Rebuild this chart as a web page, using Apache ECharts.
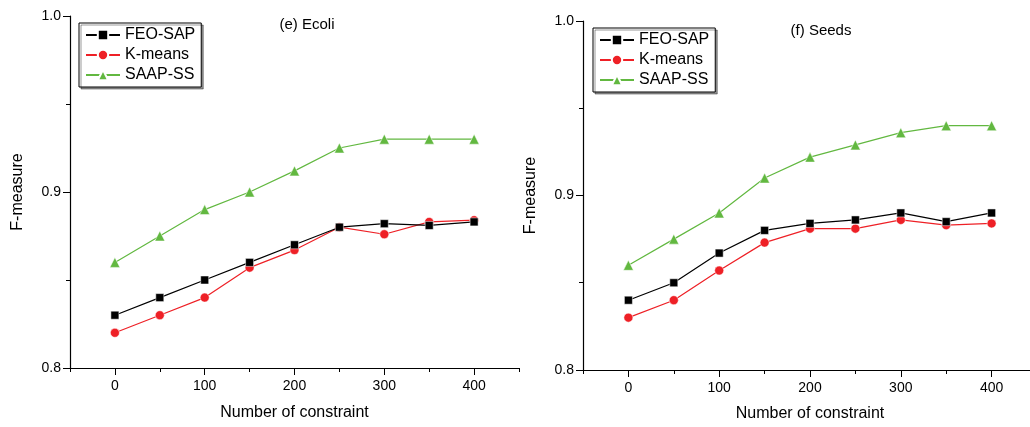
<!DOCTYPE html>
<html>
<head>
<meta charset="utf-8">
<script src="https://cdn.jsdelivr.net/npm/echarts@6/dist/echarts.min.js"></script>
<style>
  html, body { margin: 0; padding: 0; background: #fff; }
  #chart { width: 1030px; height: 427px; }
</style>
</head>
<body>
<div id="chart"></div>
<script>
var constraints = [0, 50, 100, 150, 200, 250, 300, 350, 400]

// (e) Ecoli
var ecoliFeo = [0.830, 0.840, 0.850, 0.860, 0.870, 0.880, 0.882, 0.881, 0.883]
var ecoliKmeans = [0.820, 0.830, 0.840, 0.857, 0.867, 0.880, 0.876, 0.883, 0.884]
var ecoliSaap = [0.860, 0.875, 0.890, 0.900, 0.912, 0.925, 0.930, 0.930, 0.930]

// (f) Seeds
var seedsFeo = [0.840, 0.850, 0.867, 0.880, 0.884, 0.886, 0.890, 0.885, 0.890]
var seedsKmeans = [0.830, 0.840, 0.857, 0.873, 0.881, 0.881, 0.886, 0.883, 0.884]
var seedsSaap = [0.860, 0.875, 0.890, 0.910, 0.922, 0.929, 0.936, 0.940, 0.940]

var xMajorTicks = [0, 100, 200, 300, 400]

var font = 'Liberation Sans, Arial, sans-serif'
var names = ['FEO-SAP', 'K-means', 'SAAP-SS']
var colors = ['#000000', '#ee2026', '#62b840']
var symbols = ['rect', 'circle', 'triangle']
var symbolSizes = [8, 9, 10]

function pair (xs, ys) {
  return xs.map(function (x, i) { return [x, ys[i]] })
}

// minor x axis: line + short ticks every 50, no labels
function makeXMinor (idx) {
  return {
    type: 'value',
    gridIndex: idx,
    position: 'bottom',
    min: -50,
    max: 450,
    interval: 50,
    axisLine: { show: true, onZero: false, lineStyle: { color: '#000', width: 1.2 } },
    axisTick: { show: true, length: 4, lineStyle: { color: '#000' } },
    axisLabel: { show: false },
    splitLine: { show: false }
  }
}

// major x axis: long ticks + labels at 0..400, axis name
function makeXMajor (idx, gap) {
  return {
    type: 'value',
    gridIndex: idx,
    position: 'bottom',
    min: -50,
    max: 450,
    name: 'Number of constraint',
    nameLocation: 'middle',
    nameGap: gap,
    nameTextStyle: { fontFamily: font, fontSize: 16, color: '#000' },
    axisLine: { show: false, onZero: false },
    axisTick: { show: true, length: 7, customValues: xMajorTicks, lineStyle: { color: '#000' } },
    axisLabel: {
      fontFamily: font,
      fontSize: 14,
      color: '#000',
      margin: 11,
      customValues: xMajorTicks
    },
    splitLine: { show: false }
  }
}

function makeY (idx) {
  return {
    type: 'value',
    gridIndex: idx,
    min: 0.8,
    max: 1.0,
    interval: 0.1,
    name: 'F-measure',
    nameLocation: 'middle',
    nameGap: 44,
    nameTextStyle: { fontFamily: font, fontSize: 16, color: '#000' },
    axisLine: { show: true, onZero: false, lineStyle: { color: '#000', width: 1.2 } },
    axisTick: { show: true, inside: false, length: 7, lineStyle: { color: '#000' } },
    minorTick: { show: true, splitNumber: 2, length: 4, lineStyle: { color: '#000' } },
    splitLine: { show: false },
    minorSplitLine: { show: false },
    axisLabel: {
      fontFamily: font,
      fontSize: 14,
      color: '#000',
      margin: 9,
      formatter: function (v) { return v.toFixed(1) }
    }
  }
}

function makeSeries (idx, sets) {
  return sets.map(function (d, i) {
    return {
      name: names[i],
      type: 'line',
      xAxisIndex: idx * 2,
      yAxisIndex: idx,
      data: pair(constraints, d),
      symbol: symbols[i],
      symbolSize: symbolSizes[i],
      showAllSymbol: true,
      lineStyle: { color: colors[i], width: 1.2 },
      itemStyle: { color: colors[i], borderColor: '#fff', borderWidth: 0.5 },
      z: 3 - i,
      animation: false
    }
  })
}

function makeLegend (left, top) {
  return {
    left: left,
    top: top,
    orient: 'vertical',
    data: names,
    itemWidth: 34,
    itemHeight: 13,
    itemGap: 4,
    padding: [4, 6, 4, 6],
    borderColor: '#000',
    borderWidth: 1,
    shadowColor: 'rgba(0,0,0,0.4)',
    shadowOffsetX: 2,
    shadowOffsetY: 2,
    backgroundColor: '#fff',
    textStyle: { fontFamily: font, fontSize: 16, color: '#000' }
  }
}

var chart = echarts.init(document.getElementById('chart'))
chart.setOption({
  animation: false,
  backgroundColor: '#fff',
  grid: [
    { left: 70, top: 16, width: 449, height: 352, outerBoundsMode: 'none' },
    // right panel runs past the picture's right edge, as in the source figure
    { left: 583, top: 21, width: 454, height: 349, outerBoundsMode: 'none' }
  ],
  xAxis: [makeXMinor(0), makeXMajor(0, 37), makeXMinor(1), makeXMajor(1, 36)],
  yAxis: [makeY(0), makeY(1)],
  legend: [makeLegend(79, 23), makeLegend(593, 28)],
  graphic: [
    {
      type: 'text',
      x: 307,
      y: 25,
      style: { text: '(e) Ecoli', fontFamily: font, fontSize: 15, fill: '#000', textAlign: 'center', textVerticalAlign: 'middle' }
    },
    {
      type: 'text',
      x: 821,
      y: 31,
      style: { text: '(f) Seeds', fontFamily: font, fontSize: 15, fill: '#000', textAlign: 'center', textVerticalAlign: 'middle' }
    }
  ],
  series: makeSeries(0, [ecoliFeo, ecoliKmeans, ecoliSaap]).concat(
    makeSeries(1, [seedsFeo, seedsKmeans, seedsSaap]))
})
</script>
</body>
</html>
